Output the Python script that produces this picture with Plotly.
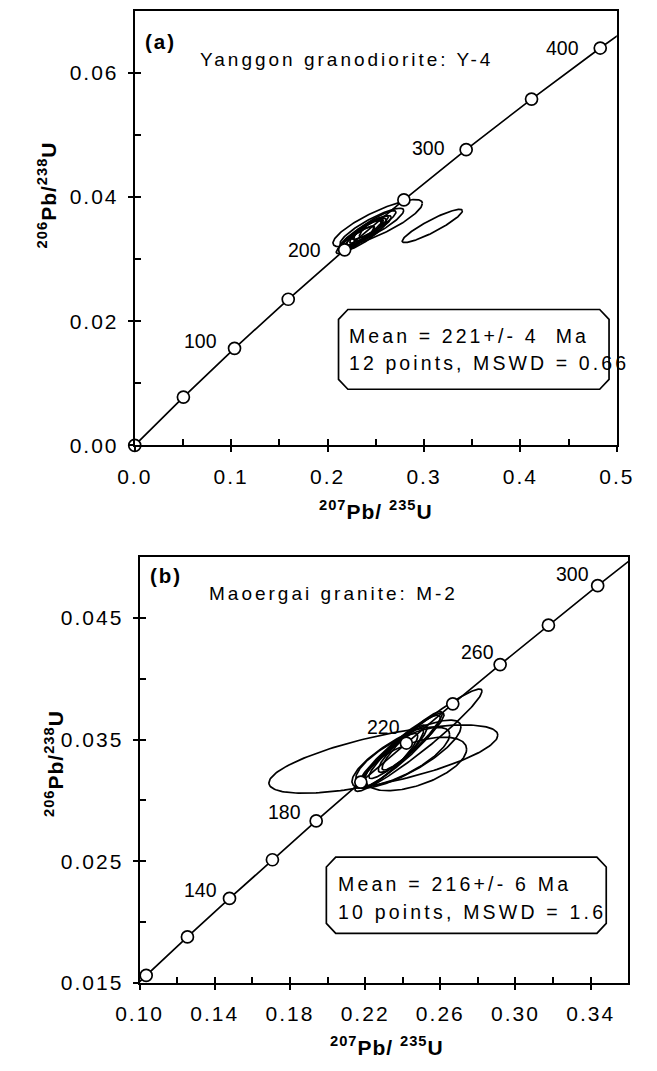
import numpy as np
import plotly.graph_objects as go

W, H = 657, 1071
FONT = "Liberation Sans, Arial, Helvetica, sans-serif"

# ---------------- Panel (a) data ----------------
# Concordia nodes: age (Ma), 207Pb/235U, 206Pb/238U
conc_age_a = [0, 50, 100, 150, 200, 250, 300, 350, 400, 420]
conc_x_a = [0.0, 0.05047, 0.10350, 0.15920, 0.21771, 0.27917, 0.34374, 0.41156, 0.48281, 0.51231]
conc_y_a = [0.0, 0.007786, 0.015633, 0.023542, 0.031511, 0.039543, 0.047637, 0.055795, 0.064016, 0.067322]
marker_ages_a = [0, 50, 100, 150, 200, 250, 300, 350, 400]
label_ages_a = [100, 200, 300, 400]

# Analyses: centre (207/235, 206/238), half-widths, error correlation
ell_cx_a = [0.252, 0.246, 0.240, 0.236, 0.243, 0.238, 0.248, 0.232, 0.242, 0.236, 0.245, 0.229, 0.3086]
ell_cy_a = [0.0358, 0.0352, 0.0344, 0.0340, 0.0348, 0.0342, 0.0355, 0.0334, 0.0347, 0.0339, 0.0351, 0.0331, 0.03535]
ell_sx_a = [0.0464, 0.0330, 0.0260, 0.0220, 0.0200, 0.0180, 0.0230, 0.0160, 0.0150, 0.0250, 0.0120, 0.0200, 0.0312]
ell_sy_a = [0.0038, 0.0030, 0.0026, 0.0024, 0.0022, 0.0020, 0.0023, 0.0019, 0.0018, 0.0027, 0.0016, 0.0022, 0.00268]
ell_rho_a = [0.84, 0.88, 0.90, 0.88, 0.92, 0.85, 0.90, 0.88, 0.80, 0.86, 0.85, 0.90, 0.91]

x_ticks_a = [0.0, 0.1, 0.2, 0.3, 0.4, 0.5]
x_ticktext_a = ["0.0", "0.1", "0.2", "0.3", "0.4", "0.5"]
x_minor_a = [0.05, 0.15, 0.25, 0.35, 0.45]
y_ticks_a = [0.0, 0.02, 0.04, 0.06]
y_ticktext_a = ["0.00", "0.02", "0.04", "0.06"]
y_minor_a = [0.01, 0.03, 0.05]

title_a = "Yanggon granodiorite: Y-4"
box_a = ["Mean = 221+/- 4 \u00a0Ma", "12 points, MSWD = 0.66"]

# ---------------- Panel (b) data ----------------
conc_age_b = [90, 100, 120, 140, 160, 180, 200, 220, 240, 260, 280, 300, 320]
conc_x_b = [0.092683, 0.103498, 0.125449, 0.147837, 0.170670, 0.193957, 0.217708,
            0.241930, 0.266635, 0.291831, 0.317529, 0.343738, 0.370467]
conc_y_b = [0.014059, 0.015633, 0.018789, 0.021955, 0.025131, 0.028316, 0.031511,
            0.034716, 0.037932, 0.041157, 0.044392, 0.047637, 0.050893]
marker_ages_b = [100, 120, 140, 160, 180, 200, 220, 240, 260, 280, 300]
label_ages_b = [140, 180, 220, 260, 300]

ell_cx_b = [0.2297, 0.2484, 0.2470, 0.2420, 0.2380, 0.2350, 0.2420, 0.2330, 0.2450, 0.2390, 0.2400]
ell_cy_b = [0.0334, 0.03495, 0.0330, 0.0338, 0.0340, 0.0336, 0.0345, 0.0333, 0.0349, 0.0341, 0.0336]
ell_sx_b = [0.0609, 0.0338, 0.0270, 0.0290, 0.0220, 0.0180, 0.0200, 0.0150, 0.0160, 0.0120, 0.0250]
ell_sy_b = [0.0028, 0.0042, 0.0022, 0.0028, 0.0030, 0.0026, 0.0027, 0.0022, 0.0024, 0.0018, 0.0024]
ell_rho_b = [0.70, 0.96, 0.55, 0.80, 0.93, 0.92, 0.94, 0.90, 0.93, 0.88, 0.75]

x_ticks_b = [0.10, 0.14, 0.18, 0.22, 0.26, 0.30, 0.34]
x_ticktext_b = ["0.10", "0.14", "0.18", "0.22", "0.26", "0.30", "0.34"]
x_minor_b = [0.12, 0.16, 0.20, 0.24, 0.28, 0.32]
y_ticks_b = [0.015, 0.025, 0.035, 0.045]
y_ticktext_b = ["0.015", "0.025", "0.035", "0.045"]
y_minor_b = [0.02, 0.03, 0.04]

title_b = "Maoergai granite: M-2"
box_b = ["Mean = 216+/- 6 Ma", "10 points, MSWD = 1.6"]

# ---------------- helpers ----------------
def sp(text, s):
    return f'<span style="letter-spacing:{s}px">{text}</span>'

def PX(px):
    return px / W

def PY(py):
    return 1 - py / H

def ellipse_trace(cxs, cys, sxs, sys_, rhos, xa, ya):
    X, Y = [], []
    t = np.linspace(0, 2 * np.pi, 181)
    for cx, cy, sx, sy, r in zip(cxs, cys, sxs, sys_, rhos):
        x = cx + sx * np.cos(t)
        y = cy + sy * (r * np.cos(t) + np.sqrt(1 - r * r) * np.sin(t))
        X += list(x) + [None]
        Y += list(y) + [None]
    return go.Scatter(x=X, y=Y, mode="lines", line=dict(color="black", width=1.7),
                      xaxis=xa, yaxis=ya, hoverinfo="skip", showlegend=False)

def pick(ages, vals, wanted):
    return [vals[ages.index(a)] for a in wanted]

fig = go.Figure()

MARK = dict(symbol="circle", size=12, color="white", line=dict(color="black", width=1.7))
# Panel a
fig.add_trace(ellipse_trace(ell_cx_a, ell_cy_a, ell_sx_a, ell_sy_a, ell_rho_a, "x", "y"))
fig.add_trace(go.Scatter(x=conc_x_a, y=conc_y_a, mode="lines", line=dict(color="black", width=1.7),
                         xaxis="x", yaxis="y", hoverinfo="skip", showlegend=False))
fig.add_trace(go.Scatter(x=pick(conc_age_a, conc_x_a, marker_ages_a), y=pick(conc_age_a, conc_y_a, marker_ages_a),
                         mode="markers", cliponaxis=False, marker=MARK,
                         xaxis="x", yaxis="y", hoverinfo="skip", showlegend=False))
# Panel b
fig.add_trace(ellipse_trace(ell_cx_b, ell_cy_b, ell_sx_b, ell_sy_b, ell_rho_b, "x2", "y2"))
fig.add_trace(go.Scatter(x=conc_x_b, y=conc_y_b, mode="lines", line=dict(color="black", width=1.7),
                         xaxis="x2", yaxis="y2", hoverinfo="skip", showlegend=False))
fig.add_trace(go.Scatter(x=pick(conc_age_b, conc_x_b, marker_ages_b), y=pick(conc_age_b, conc_y_b, marker_ages_b),
                         mode="markers", cliponaxis=False, marker=MARK,
                         xaxis="x2", yaxis="y2", hoverinfo="skip", showlegend=False))
# dummy traces for overlay (inside major tick) axes
fig.add_trace(go.Scatter(x=[None], y=[None], xaxis="x3", yaxis="y3", showlegend=False, hoverinfo="skip"))
fig.add_trace(go.Scatter(x=[None], y=[None], xaxis="x4", yaxis="y4", showlegend=False, hoverinfo="skip"))

TICKFONT = dict(family=FONT, size=21, color="black")

def main_axis(dom, rng, anchor, tv, tt, minor, standoff):
    return dict(domain=dom, range=rng, anchor=anchor, showline=True, linecolor="black", linewidth=2,
                mirror=True, showgrid=False, zeroline=False, ticks="outside", ticklen=5, tickwidth=1.7,
                tickcolor="black", tickmode="array", tickvals=tv, ticktext=[sp(t, 2) for t in tt],
                tickfont=TICKFONT, ticklabelstandoff=standoff,
                minor=dict(tickmode="array", tickvals=minor, ticks="inside", ticklen=6, tickwidth=1.7,
                           tickcolor="black", showgrid=False))

def overlay_axis(over, anchor, rng, tv):
    return dict(overlaying=over, anchor=anchor, range=rng, tickmode="array", tickvals=tv, ticks="inside",
                ticklen=6, tickwidth=1.7, tickcolor="black", showticklabels=False, showline=False,
                showgrid=False, zeroline=False)

xa_dom = [118.3 / W, 633.3 / W]
ya_dom = [1 - 450 / H, 1 - 11 / H]
xb_dom = [123.5 / W, 645.5 / W]
yb_dom = [1 - 993.3 / H, 1 - 562.7 / H]

fig.update_layout(
    width=W, height=H, margin=dict(l=0, r=0, t=0, b=0),
    paper_bgcolor="white", plot_bgcolor="white", showlegend=False,
    font=dict(family=FONT, color="black"),
    xaxis=main_axis(xa_dom, [0, 0.5], "y", x_ticks_a, x_ticktext_a, x_minor_a, 6),
    yaxis=main_axis(ya_dom, [0, 0.07], "x", y_ticks_a, y_ticktext_a, y_minor_a, 5),
    xaxis2=main_axis(xb_dom, [0.10, 0.36], "y2", x_ticks_b, x_ticktext_b, x_minor_b, 6),
    yaxis2=main_axis(yb_dom, [0.015, 0.05], "x2", y_ticks_b, y_ticktext_b, y_minor_b, 5),
    xaxis3=overlay_axis("x", "y", [0, 0.5], x_ticks_a),
    yaxis3=overlay_axis("y", "x", [0, 0.07], y_ticks_a),
    xaxis4=overlay_axis("x2", "y2", [0.10, 0.36], x_ticks_b),
    yaxis4=overlay_axis("y2", "x2", [0.015, 0.05], y_ticks_b),
)

ann = []

def paper_text(text, x, y, size=19, xanchor="left", yanchor="middle", angle=0):
    ann.append(dict(text=text, x=PX(x), y=PY(y), xref="paper", yref="paper", showarrow=False,
                    xanchor=xanchor, yanchor=yanchor, textangle=angle,
                    font=dict(family=FONT, size=size, color="black")))

# panel labels and sample names
paper_text("<b>" + sp("(a)", 2) + "</b>", 127, 42, size=20.5)
paper_text(sp(title_a, 3), 186, 60, size=19)
paper_text("<b>" + sp("(b)", 2) + "</b>", 132, 581, size=20.5)
paper_text(sp(title_b, 3), 196, 600, size=19)

# summary boxes
def box_shape(l, t, r, b, c):
    pts = [(l + c, t), (r - c, t), (r, t + c), (r, b - c), (r - c, b), (l + c, b), (l, b - c), (l, t + c)]
    path = "M " + " L ".join(f"{PX(px):.5f},{PY(py):.5f}" for px, py in pts) + " Z"
    return dict(type="path", path=path, xref="paper", yref="paper",
                line=dict(color="black", width=1.7), fillcolor="white", layer="above")

shapes = [box_shape(336, 312.7, 625, 393.3, 10), box_shape(323, 866, 622, 943, 10)]
paper_text(sp(box_a[0], 3.1), 345, 339, size=19.5)
paper_text(sp(box_a[1], 3.1), 345, 367, size=19.5)
paper_text(sp(box_b[0], 3.2), 333, 893, size=19.5)
paper_text(sp(box_b[1], 3.2), 333, 921, size=19.5)

# axis titles
xt = "<b>" + sp("<sup>207</sup>Pb/ <sup>235</sup>U", 1) + "</b>"
yt = "<b>" + sp("<sup>206</sup>Pb/<sup>238</sup>U", 1) + "</b>"
paper_text(xt, 376, 515, size=21, xanchor="center")
paper_text(xt, 388, 1057, size=21, xanchor="center")
paper_text(yt, 25, 197, size=21, xanchor="center", angle=-90)
paper_text(yt, 32, 771, size=21, xanchor="center", angle=-90)

# concordia age labels
label_shift_a = [(-34, 7), (-40, 0), (-38, 2), (-38, 0)]
for age, (dx, dy) in zip(label_ages_a, label_shift_a):
    i = conc_age_a.index(age)
    ann.append(dict(text=str(age), x=conc_x_a[i], y=conc_y_a[i], xref="x", yref="y",
                    showarrow=False, xanchor="center", yanchor="middle", xshift=dx, yshift=dy,
                    font=dict(family=FONT, size=19.5, color="black")))
label_shift_b = [(-29, 8), (-32, 9), (-23, 16), (-23, 13), (-25, 12)]
for age, (dx, dy) in zip(label_ages_b, label_shift_b):
    i = conc_age_b.index(age)
    ann.append(dict(text=str(age), x=conc_x_b[i], y=conc_y_b[i], xref="x2", yref="y2",
                    showarrow=False, xanchor="center", yanchor="middle", xshift=dx, yshift=dy,
                    font=dict(family=FONT, size=19.5, color="black")))

fig.update_layout(annotations=ann, shapes=shapes)
fig.write_html("out.html")
